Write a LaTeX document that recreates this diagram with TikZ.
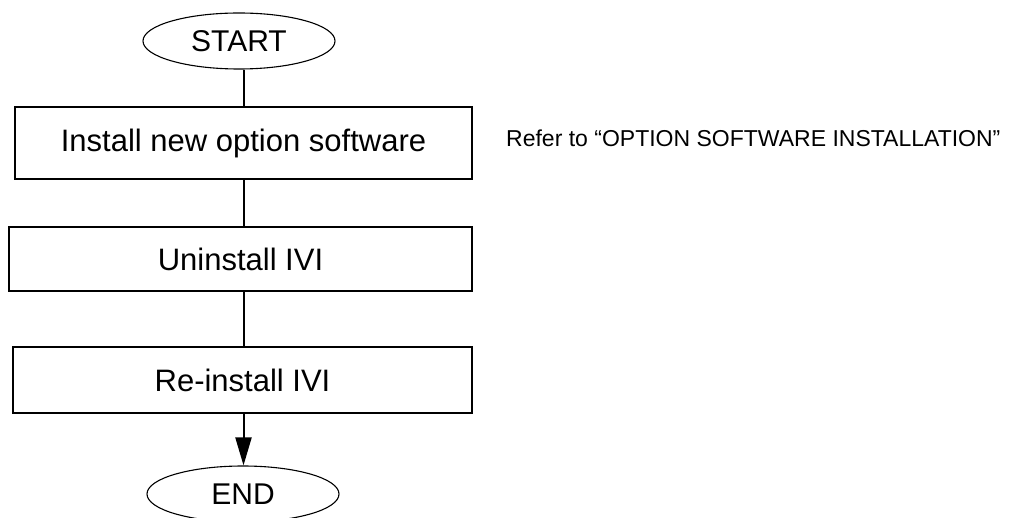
\documentclass[tikz,border=0pt]{standalone}
\usepackage{fontspec}
\setmainfont{Liberation Sans}
\usetikzlibrary{shapes.geometric,arrows.meta}
\begin{document}
\begin{tikzpicture}[x=1pt,y=1pt,
  term/.style={draw,ellipse,line width=1.1pt,minimum width=192pt,minimum height=56pt,inner sep=0pt,font=\fontsize{30}{34}\selectfont},
  stepbox/.style={draw,rectangle,line width=2.2pt,inner sep=0pt,font=\fontsize{31}{36}\selectfont},
  conn/.style={line width=2pt},
  note/.style={font=\fontsize{23}{27}\selectfont,inner sep=0pt}]
\useasboundingbox (0,0) rectangle (1022,-518);
\node[term] (start) at (239,-41) {START};
\node[stepbox,minimum width=457pt,minimum height=72pt] (b1) at (243.5,-143) {Install new option software};
\node[stepbox,minimum width=463pt,minimum height=64pt] (b2) at (240.5,-259) {Uninstall IVI};
\node[stepbox,minimum width=459pt,minimum height=66pt] (b3) at (242.5,-380) {Re-install IVI};
\node[term] (end) at (243,-494) {END};
\node[note,anchor=base west] (ref) at (506,-147) {Refer to “OPTION SOFTWARE INSTALLATION”};
\draw[conn] (b1.north |- start.south) -- (b1.north);
\draw[conn] (b1.south) -- (b1.south |- b2.north);
\draw[conn] (b1.south |- b2.south) -- (b1.south |- b3.north);
\draw[conn,-{Triangle[length=28pt,width=16pt]}] (b1.south |- b3.south) -- (b1.south |- end.north);
\end{tikzpicture}
\end{document}
